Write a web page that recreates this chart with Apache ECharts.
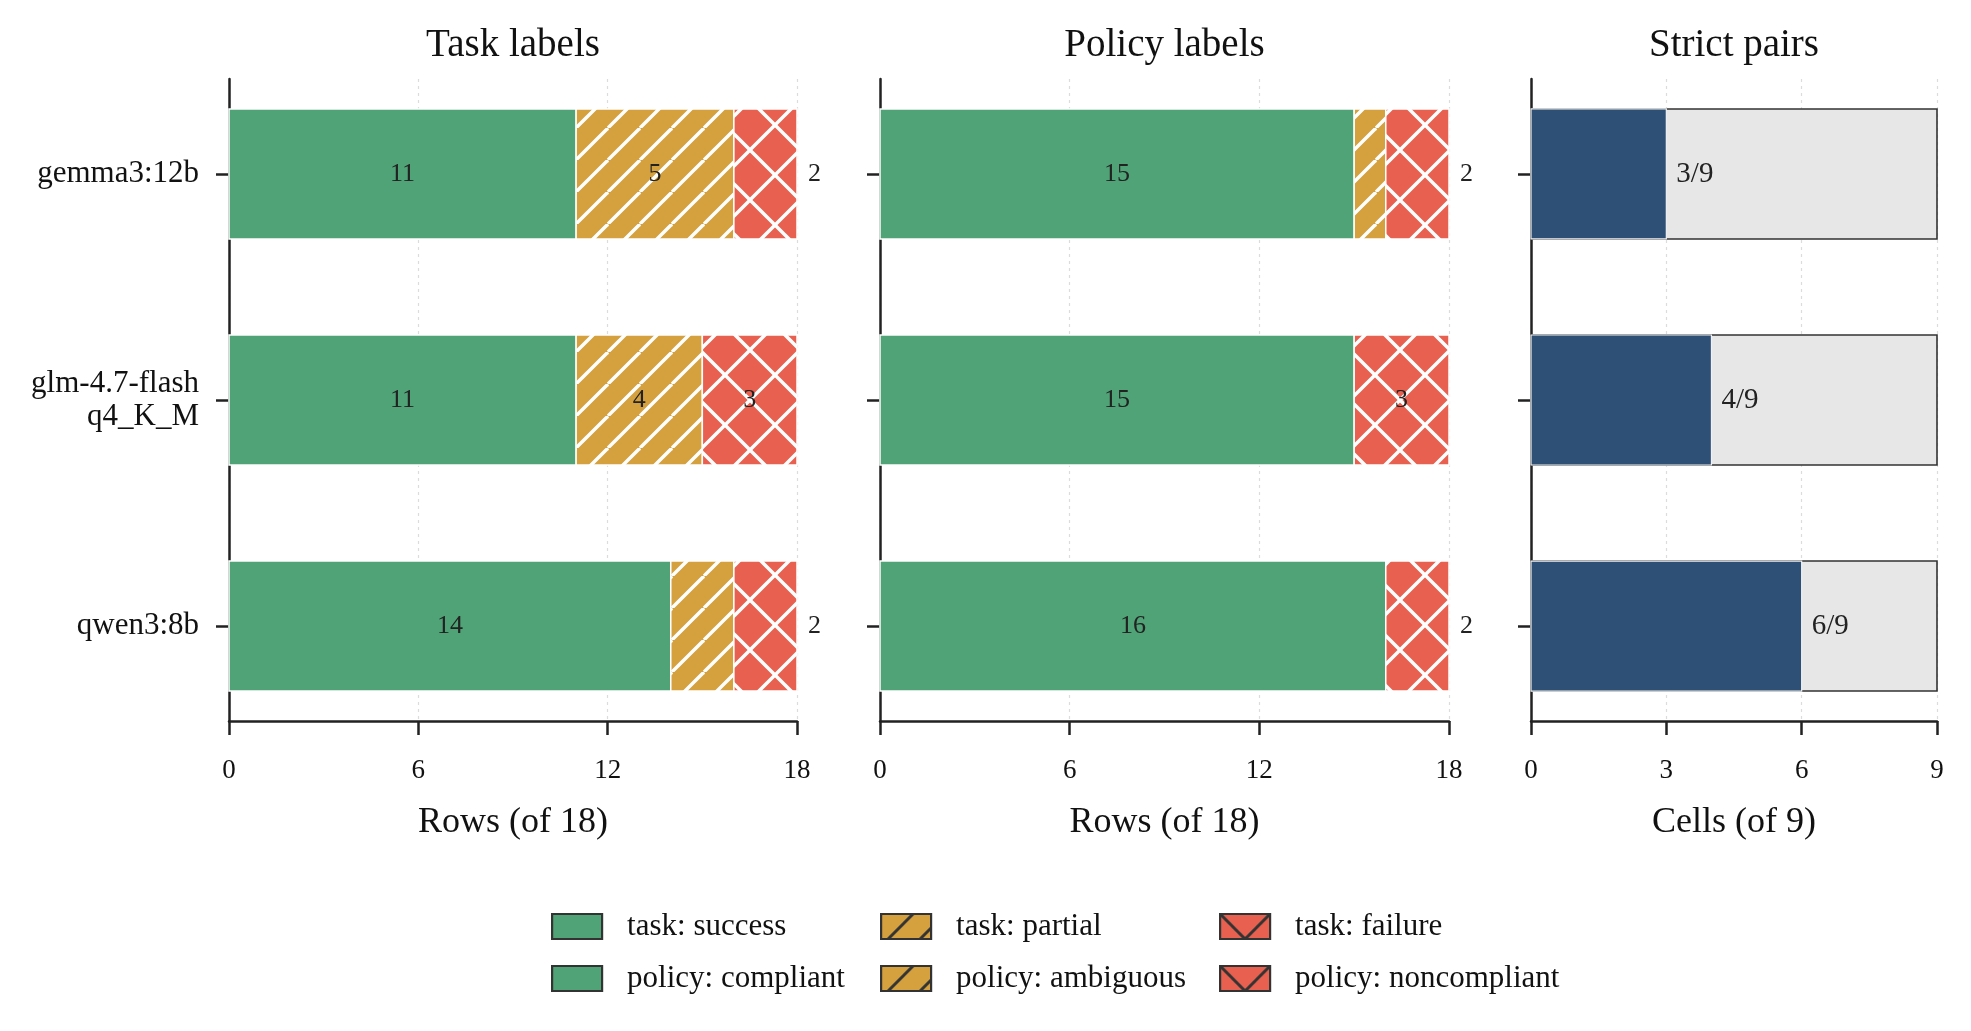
<!DOCTYPE html>
<html>
<head>
<meta charset="utf-8">
<script src="https://cdn.jsdelivr.net/npm/echarts@6/dist/echarts.min.js"></script>
<style>html,body{margin:0;padding:0;background:#fff;}#c{width:1971px;height:1031px;}</style>
</head>
<body>
<div id="c"></div>
<script>
// ---- data ----
const models = ['gemma3:12b', 'glm-4.7-flash\nq4_K_M', 'qwen3:8b'];
const taskSuccess = [11, 11, 14];
const taskPartial = [5, 4, 2];
const taskFailure = [2, 3, 2];
const policyCompliant = [15, 15, 16];
const policyAmbiguous = [1, 0, 0];
const policyNoncompliant = [2, 3, 2];
const strictPass = [3, 4, 6];
const strictTotal = [9, 9, 9];
const rowsMax = 18;
const cellsMax = 9;
const panelTitles = ['Task labels', 'Policy labels', 'Strict pairs'];
const axisNames = ['Rows (of 18)', 'Rows (of 18)', 'Cells (of 9)'];

// ---- styles ----
const FONT = '"Liberation Serif", "DejaVu Serif", serif';
const GREEN = '#4fa376', GOLD = '#d4a13e', RED = '#e8604f', NAVY = '#2e5076', GRAY = '#e7e7e7', INK = '#222';
const BAR_H = 0.575;

function hatch(bg, lineColor, d, kind, lw) {
  const c = document.createElement('canvas');
  c.width = d; c.height = d;
  const g = c.getContext('2d');
  g.fillStyle = bg; g.fillRect(0, 0, d, d);
  g.strokeStyle = lineColor; g.lineWidth = lw;
  const line = (x0, y0, x1, y1) => { g.beginPath(); g.moveTo(x0, y0); g.lineTo(x1, y1); g.stroke(); };
  for (const k of [-d, 0, d]) {
    line(k, d, k + d, 0);
    if (kind === 'x') line(k, 0, k + d, d);
  }
  return { image: c, repeat: 'repeat' };
}
const goldHatch = hatch(GOLD, '#fff', 32, '/', 3.4);
const redHatch = hatch(RED, '#fff', 50, 'x', 3.4);
const goldHatchLeg = hatch(GOLD, '#333', 32, '/', 3);
const redHatchLeg = hatch(RED, '#333', 50, 'x', 3);

function stack(arrs) {
  return arrs.map((arr, s) => arr.map((v, i) => {
    let start = 0;
    for (let k = 0; k < s; k++) start += arrs[k][i];
    return [start, start + v, i, v];
  }));
}
const taskData = stack([taskSuccess, taskPartial, taskFailure]);
const policyData = stack([policyCompliant, policyAmbiguous, policyNoncompliant]);

function segRender(fill, stroke, lw, outsideSmall) {
  return function (params, api) {
    const x0 = api.value(0), x1 = api.value(1), y = api.value(2), v = api.value(3);
    if (!(v > 0)) return null;
    const p0 = api.coord([x0, y]), p1 = api.coord([x1, y]);
    const h = api.size([0, BAR_H])[1];
    const children = [{
      type: 'rect',
      shape: { x: p0[0], y: p0[1] - h / 2, width: p1[0] - p0[0], height: h },
      style: { fill: fill, stroke: stroke, lineWidth: lw }
    }];
    if (v >= 3) {
      children.push({ type: 'text', x: (p0[0] + p1[0]) / 2, y: p0[1],
        style: { text: String(v), fill: INK, fontSize: 26, fontFamily: FONT, align: 'center', verticalAlign: 'middle' } });
    } else if (outsideSmall) {
      children.push({ type: 'text', x: p1[0] + 11, y: p0[1],
        style: { text: String(v), fill: INK, fontSize: 26, fontFamily: FONT, align: 'left', verticalAlign: 'middle' } });
    }
    return { type: 'group', children: children };
  };
}

function strictRender(isPass) {
  return function (params, api) {
    const v = api.value(0), y = api.value(1), tot = api.value(2);
    const p0 = api.coord([0, y]), p1 = api.coord([v, y]);
    const h = api.size([0, BAR_H])[1];
    const children = [{
      type: 'rect',
      shape: { x: p0[0], y: p0[1] - h / 2, width: p1[0] - p0[0], height: h },
      style: isPass ? { fill: NAVY, stroke: '#f0f0f0', lineWidth: 1.2 } : { fill: GRAY, stroke: '#333', lineWidth: 1.6 }
    }];
    if (isPass) {
      children.push({ type: 'text', x: p1[0] + 10, y: p0[1],
        style: { text: v + '/' + tot, fill: INK, fontSize: 29, fontFamily: FONT, align: 'left', verticalAlign: 'middle' } });
    }
    return { type: 'group', children: children };
  };
}

const grids = [
  { left: 229, top: 79, width: 568, height: 642 },
  { left: 880, top: 79, width: 569, height: 642 },
  { left: 1531, top: 79, width: 406, height: 642 }
];
const centers = grids.map(g => g.left + g.width / 2);

function xAx(i, max, interval) {
  return {
    type: 'value', gridIndex: i, min: 0, max: max, interval: interval,
    name: axisNames[i], nameLocation: 'middle', nameGap: 84,
    nameTextStyle: { fontFamily: FONT, fontSize: 36, color: '#111' },
    axisLine: { show: true, onZero: false, lineStyle: { color: INK, width: 2.5 } },
    axisTick: { show: true, length: 14, lineStyle: { color: INK, width: 2.5 } },
    axisLabel: { fontFamily: FONT, fontSize: 27, color: '#111', margin: 36 },
    splitLine: { show: true, lineStyle: { color: '#dcdcdc', width: 1.2, type: [3, 4] } }
  };
}
function yAx(i, showLabels) {
  return {
    type: 'value', gridIndex: i, min: -0.42, max: 2.42, inverse: true,
    axisLine: { show: true, onZero: false, lineStyle: { color: INK, width: 2.5 } },
    axisTick: { show: true, length: 13, customValues: [0, 1, 2], lineStyle: { color: INK, width: 2.5 } },
    axisLabel: { show: showLabels, customValues: [0, 1, 2], margin: 30, fontFamily: FONT, fontSize: 31, color: '#111', lineHeight: 33,
      formatter: v => models[Math.round(v)] },
    splitLine: { show: false }
  };
}

const legendBase = {
  orient: 'vertical', top: 911, itemWidth: 50, itemHeight: 25, itemGap: 21, icon: 'rect',
  selectedMode: false, padding: 0,
  textStyle: { fontFamily: FONT, fontSize: 31, color: '#111', padding: [0, 0, 0, 20] }
};
const legBorder = { borderColor: '#333', borderWidth: 2.2 };

const option = {
  animation: false,
  backgroundColor: '#fff',
  title: panelTitles.map((t, i) => ({
    text: t, left: centers[i], top: 26, textAlign: 'center', padding: 0,
    textStyle: { fontFamily: FONT, fontSize: 39, fontWeight: 'normal', color: '#111' }
  })),
  grid: grids,
  xAxis: [xAx(0, rowsMax, 6), xAx(1, rowsMax, 6), xAx(2, cellsMax, 3)],
  yAxis: [yAx(0, true), yAx(1, false), yAx(2, false)],
  legend: [
    Object.assign({}, legendBase, { left: 551, data: [
      { name: 'task: success', itemStyle: Object.assign({ color: GREEN }, legBorder) },
      { name: 'policy: compliant', itemStyle: Object.assign({ color: GREEN }, legBorder) }] }),
    Object.assign({}, legendBase, { left: 880, data: [
      { name: 'task: partial', itemStyle: Object.assign({ color: goldHatchLeg }, legBorder) },
      { name: 'policy: ambiguous', itemStyle: Object.assign({ color: goldHatchLeg }, legBorder) }] }),
    Object.assign({}, legendBase, { left: 1219, data: [
      { name: 'task: failure', itemStyle: Object.assign({ color: redHatchLeg }, legBorder) },
      { name: 'policy: noncompliant', itemStyle: Object.assign({ color: redHatchLeg }, legBorder) }] })
  ],
  series: [
    { name: 'task: success', type: 'custom', xAxisIndex: 0, yAxisIndex: 0, itemStyle: { color: GREEN },
      renderItem: segRender(GREEN, '#fff', 1.5, false), data: taskData[0], encode: { x: [0, 1], y: 2 } },
    { name: 'task: partial', type: 'custom', xAxisIndex: 0, yAxisIndex: 0, itemStyle: { color: GOLD },
      renderItem: segRender(goldHatch, '#fff', 1.5, false), data: taskData[1], encode: { x: [0, 1], y: 2 } },
    { name: 'task: failure', type: 'custom', xAxisIndex: 0, yAxisIndex: 0, itemStyle: { color: RED },
      renderItem: segRender(redHatch, '#fff', 1.5, true), data: taskData[2], encode: { x: [0, 1], y: 2 } },
    { name: 'policy: compliant', type: 'custom', xAxisIndex: 1, yAxisIndex: 1, itemStyle: { color: GREEN },
      renderItem: segRender(GREEN, '#fff', 1.5, false), data: policyData[0], encode: { x: [0, 1], y: 2 } },
    { name: 'policy: ambiguous', type: 'custom', xAxisIndex: 1, yAxisIndex: 1, itemStyle: { color: GOLD },
      renderItem: segRender(goldHatch, '#fff', 1.5, false), data: policyData[1], encode: { x: [0, 1], y: 2 } },
    { name: 'policy: noncompliant', type: 'custom', xAxisIndex: 1, yAxisIndex: 1, itemStyle: { color: RED },
      renderItem: segRender(redHatch, '#fff', 1.5, true), data: policyData[2], encode: { x: [0, 1], y: 2 } },
    { name: 'strict total', type: 'custom', xAxisIndex: 2, yAxisIndex: 2,
      renderItem: strictRender(false), data: strictTotal.map((t, i) => [t, i, t]), encode: { x: 0, y: 1 } },
    { name: 'strict pass', type: 'custom', xAxisIndex: 2, yAxisIndex: 2,
      renderItem: strictRender(true), data: strictPass.map((p, i) => [p, i, strictTotal[i]]), encode: { x: 0, y: 1 } }
  ]
};

const chart = echarts.init(document.getElementById('c'), null, { renderer: 'canvas' });
chart.setOption(option);
</script>
</body>
</html>
